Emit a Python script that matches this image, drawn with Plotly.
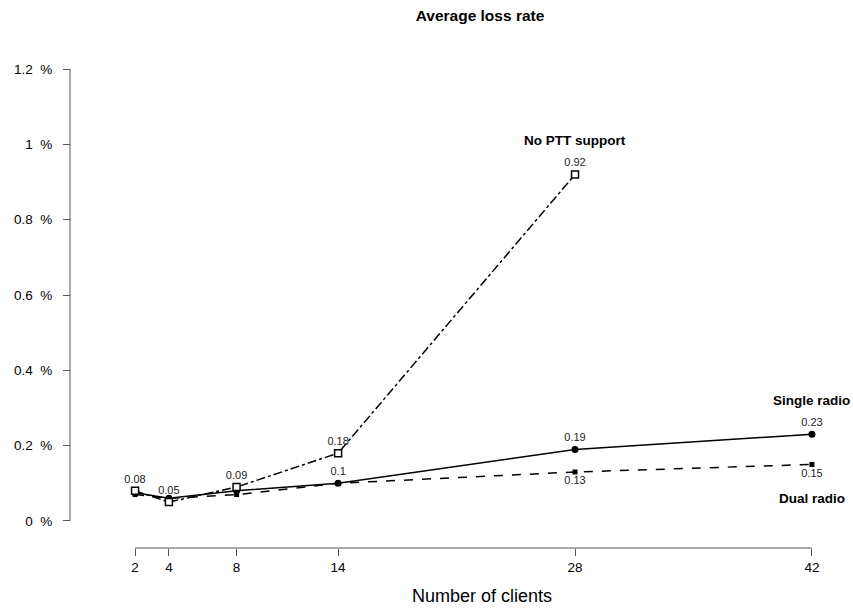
import plotly.graph_objects as go

clients = [2, 4, 8, 14, 28, 42]
x_ticks = [2, 4, 8, 14, 28, 42]
y_ticks = [0, 0.2, 0.4, 0.6, 0.8, 1.0, 1.2]
y_tick_labels = ["0\u00a0\u00a0%", "0.2\u00a0\u00a0%", "0.4\u00a0\u00a0%", "0.6\u00a0\u00a0%",
                 "0.8\u00a0\u00a0%", "1\u00a0\u00a0%", "1.2\u00a0\u00a0%"]

noptt_x = [2, 4, 8, 14, 28]
noptt = [0.08, 0.05, 0.09, 0.18, 0.92]
single = [0.075, 0.06, 0.08, 0.10, 0.19, 0.23]
dual = [0.07, 0.06, 0.07, 0.10, 0.13, 0.15]

noptt_text = ["0.08", "0.05", "0.09", "0.18", "0.92"]
single_text = ["", "", "", "0.1", "0.19", "0.23"]
dual_text = ["", "", "", "", "0.13", "0.15"]

FONT = "Liberation Sans, Arial, sans-serif"
lbl_font = dict(family=FONT, size=11, color="#222")

fig = go.Figure()
fig.add_trace(go.Scatter(
    x=clients, y=dual, mode="lines+markers+text", text=dual_text,
    textposition="bottom center", textfont=lbl_font,
    line=dict(color="black", width=1.5, dash="dash"),
    marker=dict(symbol="square", size=5, color="black"), name="Dual radio"))
fig.add_trace(go.Scatter(
    x=clients, y=single, mode="lines+markers+text", text=single_text,
    textposition="top center", textfont=lbl_font,
    line=dict(color="black", width=1.5),
    marker=dict(symbol="circle", size=7, color="black"), name="Single radio"))
fig.add_trace(go.Scatter(
    x=noptt_x, y=noptt, mode="lines+markers+text", text=noptt_text,
    textposition="top center", textfont=lbl_font,
    line=dict(color="black", width=1.5, dash="dashdot"),
    marker=dict(symbol="square", size=7, color="white",
                line=dict(color="black", width=1.5)), name="No PTT support"))

name_font = dict(family=FONT, size=13.5, color="black")
fig.add_annotation(x=28, y=noptt[-1], text="<b>No PTT support</b>", showarrow=False,
                   yshift=34, font=name_font)
fig.add_annotation(x=42, y=single[-1], text="<b>Single radio</b>", showarrow=False,
                   yshift=34, font=name_font)
fig.add_annotation(x=42, y=dual[-1], text="<b>Dual radio</b>", showarrow=False,
                   yshift=-34, font=name_font)

# x-axis title (centred like R's xlab)
fig.add_annotation(xref="paper", yref="paper", x=(482 - 70) / 769, y=0,
                   yshift=-48, yanchor="middle", xanchor="center",
                   text="Number of clients", showarrow=False,
                   font=dict(family=FONT, size=18, color="black"))

# R-style axis lines spanning only the tick range
fig.add_shape(type="line", xref="paper", yref="y", x0=0, x1=0, y0=0, y1=1.2,
              line=dict(color="#555", width=1))
fig.add_shape(type="line", xref="x", yref="paper", x0=2, x1=42, y0=0, y1=0,
              line=dict(color="#555", width=1))

fig.update_layout(
    width=853, height=609,
    margin=dict(l=70, r=14, t=51, b=61, autoexpand=False),
    plot_bgcolor="white", paper_bgcolor="white",
    showlegend=False,
    font=dict(family=FONT, size=12, color="black"),
    title=dict(text="<b>Average loss rate</b>", x=480 / 853, xref="container",
               xanchor="center", y=1 - 16 / 609, yanchor="middle",
               font=dict(family=FONT, size=15.5, color="black")),
    xaxis=dict(range=[0.4, 43.6], domain=[0.0494, 1], anchor="free", position=0,
               automargin=False,
               tickmode="array", tickvals=x_ticks, ticks="outside", ticklen=7,
               tickcolor="#555", showgrid=False, zeroline=False, showline=False,
               tickfont=dict(family=FONT, size=13.5, color="black")),
    yaxis=dict(range=[-0.048, 1.248], domain=[0.0181, 1], anchor="free", position=0,
               automargin=False,
               tickmode="array", tickvals=y_ticks, ticktext=y_tick_labels,
               ticks="outside", ticklen=7, tickcolor="#555", ticklabelstandoff=8,
               showgrid=False, zeroline=False, showline=False,
               tickfont=dict(family=FONT, size=13.5, color="black")),
)

fig.write_html("out.html")
